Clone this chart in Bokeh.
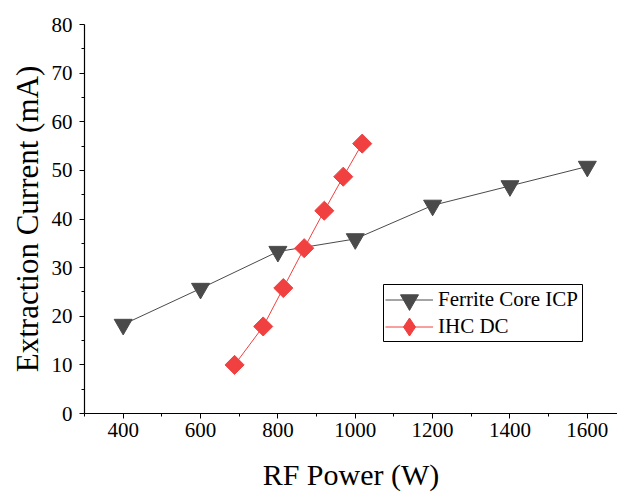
import math
from bokeh.plotting import figure
from bokeh.models import Range1d, Legend, LegendItem, FixedTicker, BoxAnnotation
from bokeh.embed import file_html
from bokeh.resources import INLINE

ferrite_power = [400, 600, 800, 1000, 1200, 1400, 1600]
ferrite_current = [18.3, 25.7, 33.3, 35.9, 42.8, 46.8, 50.8]
ihc_power = [688, 762, 814, 868, 920, 969, 1018]
ihc_current = [10.0, 17.9, 25.8, 34.0, 41.7, 48.7, 55.5]
x_ticks = [400, 600, 800, 1000, 1200, 1400, 1600]
x_minor = [300, 500, 700, 900, 1100, 1300, 1500, 1700]
y_ticks = [0, 10, 20, 30, 40, 50, 60, 70, 80]
y_minor = [5, 15, 25, 35, 45, 55, 65, 75]

FONT = "Times New Roman"

p = figure(width=617, height=495, output_backend="svg", toolbar_location=None,
           x_range=Range1d(300, 1678), y_range=Range1d(0, 80),
           min_border_left=84, min_border_right=0, min_border_top=24, min_border_bottom=82)
p.outline_line_color = None
p.grid.visible = False
p.background_fill_color = "white"

for ax in (p.xaxis[0], p.yaxis[0]):
    ax.axis_line_color = "black"
    ax.axis_line_width = 1.2
    ax.major_tick_line_color = "black"
    ax.minor_tick_line_color = "black"
    ax.major_tick_out = 5
    ax.major_tick_in = 0
    ax.minor_tick_out = 3
    ax.minor_tick_in = 0
    ax.major_label_text_font = FONT
    ax.major_label_text_font_size = "21px"
    ax.major_label_text_color = "black"
    ax.axis_label_text_font = FONT
    ax.axis_label_text_font_style = "normal"
    ax.axis_label_text_color = "black"

p.xaxis.ticker = FixedTicker(ticks=x_ticks, minor_ticks=x_minor)
p.yaxis.ticker = FixedTicker(ticks=y_ticks, minor_ticks=y_minor)
p.xaxis.axis_label = "RF Power (W)"
p.yaxis.axis_label = "Extraction Current (mA)"
p.xaxis.axis_label_text_font_size = "30px"
p.yaxis.axis_label_text_font_size = "31px"
p.xaxis.major_label_standoff = 4
p.xaxis.axis_label_standoff = 18
p.yaxis.major_label_standoff = 7
p.yaxis.axis_label_standoff = 4

gray = "#4a4a4a"
red = "#f04040"

l1 = p.line(ferrite_power, ferrite_current, line_color=gray, line_width=1)
m1 = p.scatter(ferrite_power, ferrite_current, marker="inverted_triangle", size=18,
               fill_color=gray, line_color=gray)
l2 = p.line(ihc_power, ihc_current, line_color=red, line_width=1)
m2 = p.scatter(ihc_power, ihc_current, marker="square", size=13.5, angle=math.pi / 4,
               fill_color=red, line_color=red)
# legend-only diamond glyph (zero size in the plot; the legend sizes it itself)
m2_leg = p.scatter(ihc_power, ihc_current, marker="diamond", size=0,
                   fill_color=red, line_color=red)

# legend frame
frame_box = BoxAnnotation(left=299, right=498, bottom=72, top=129,
                          left_units="screen", right_units="screen",
                          bottom_units="screen", top_units="screen",
                          fill_color="white", fill_alpha=1,
                          line_color="black", line_width=1, line_alpha=1)
p.add_layout(frame_box)


def make_legend(label, renderers, loc):
    lg = Legend(items=[LegendItem(label=label, renderers=renderers)], location=loc)
    lg.label_text_font = FONT
    lg.label_text_font_size = "21px"
    lg.label_text_color = "black"
    lg.border_line_color = None
    lg.background_fill_alpha = 0
    lg.glyph_width = 48
    lg.glyph_height = 45
    lg.label_height = 45
    lg.spacing = 0
    lg.padding = 0
    lg.margin = 0
    lg.label_standoff = 5
    return lg


p.add_layout(make_legend("Ferrite Core ICP", [l1, m1], (301, 91)), "center")
p.add_layout(make_legend("IHC DC", [l2, m2_leg], (301, 64)), "center")

open("out.html", "w").write(file_html(p, INLINE))
